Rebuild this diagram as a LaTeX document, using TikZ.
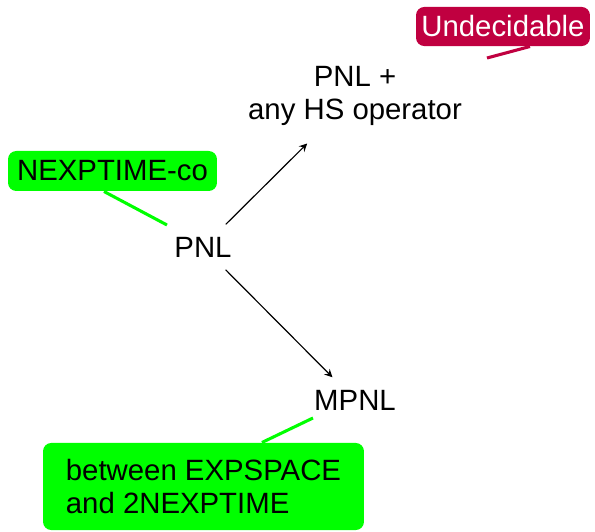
\documentclass[tikz,border=0pt]{standalone}
\usepackage{fontspec}
\setsansfont{Liberation Sans}
\usetikzlibrary{arrows,calc}
\definecolor{undecred}{RGB}{192,0,64}
\definecolor{okgreen}{RGB}{0,255,0}

\begin{document}
\begin{tikzpicture}[
  x=0.4225pt, y=-0.4225pt,
  font=\sffamily\fontsize{12.4}{14.2}\selectfont, >=stealth,
  lang/.style={align=center, inner sep=3pt},
  flow/.style={->, line width=0.5pt, shorten <=3pt, shorten >=3pt},
  note/.style={fill=#1, rounded corners=3.5pt, inner sep=0pt},
  tail/.style={draw=#1, line width=1.3pt},
]
\useasboundingbox (0,0) rectangle (595,532);
\node[lang] (top) at (355,96) {PNL +\\any HS operator};
\node[lang] (pnl) at (203,247) {PNL};
\node[lang] (mpnl) at (355,400) {MPNL};
\draw[flow, shorten >=6pt] (pnl) -- (top);
\draw[flow] (pnl) -- (mpnl);
% complexity notes
\node[note=undecred, text=white, minimum width=73.5pt, minimum height=16.5pt] (undec) at (503,26.5) {Undecidable};
\node[note=okgreen, minimum width=88.3pt, minimum height=16.9pt] (nexp) at (112.5,171) {NEXPTIME-co};
\node[note=okgreen, align=left, minimum width=135.6pt, minimum height=36.8pt] (expsp) at (203.5,486.5) {between EXPSPACE\\and 2NEXPTIME};
\coordinate (undecpt) at (487,58);
\coordinate (nexppt) at (167,225);
\coordinate (exsppt) at (313,418);
\draw[tail=undecred] ([xshift=11.4pt]undec.south) -- (undecpt);
\draw[tail=okgreen] ([xshift=-3.6pt]nexp.south) -- (nexppt);
\draw[tail=okgreen] ([xshift=24.7pt]expsp.north) -- (exsppt);
\end{tikzpicture}
\end{document}
